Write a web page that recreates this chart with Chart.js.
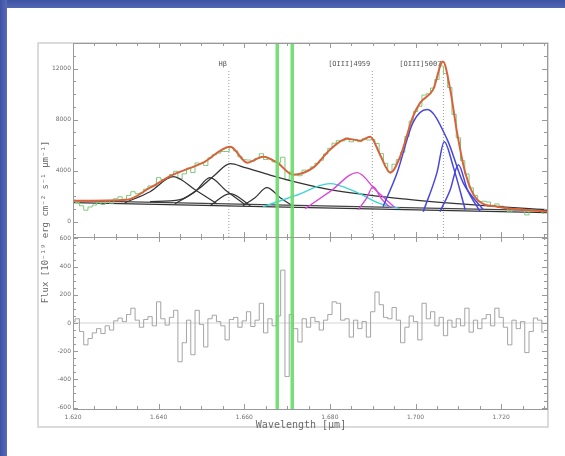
<!DOCTYPE html>
<html>
<head>
<meta charset="utf-8">
<script src="https://cdn.jsdelivr.net/npm/chart.js@4.4.1/dist/chart.umd.min.js"></script>
<style>
html, body { margin: 0; padding: 0; background: #fff; }
#wrap { position: relative; width: 565px; height: 456px; overflow: hidden; }
.bar-top { position: absolute; left: 0; top: 0; width: 565px; height: 8px; background: linear-gradient(#3d52a4, #5266b2); }
.bar-left { position: absolute; left: 0; top: 0; width: 7px; height: 456px; background: linear-gradient(90deg, #3d52a4, #586bb6); }
canvas { position: absolute; left: 0; top: 0; }
</style>
</head>
<body>
<div id="wrap">
  <div class="bar-top"></div>
  <div class="bar-left"></div>
  <canvas id="spec" width="565" height="456"></canvas>
</div>
<script>
// observed spectrum grid (micron)
const wave = [
  1.620, 1.621, 1.622, 1.623, 1.624, 1.625, 1.626, 1.627, 1.628, 1.629,
  1.630, 1.631, 1.632, 1.633, 1.634, 1.635, 1.636, 1.637, 1.638, 1.639,
  1.640, 1.641, 1.642, 1.643, 1.644, 1.645, 1.646, 1.647, 1.648, 1.649,
  1.650, 1.651, 1.652, 1.653, 1.654, 1.655, 1.656, 1.657, 1.658, 1.659,
  1.660, 1.661, 1.662, 1.663, 1.664, 1.665, 1.666, 1.667, 1.668, 1.669,
  1.670, 1.671, 1.672, 1.673, 1.674, 1.675, 1.676, 1.677, 1.678, 1.679,
  1.680, 1.681, 1.682, 1.683, 1.684, 1.685, 1.686, 1.687, 1.688, 1.689,
  1.690, 1.691, 1.692, 1.693, 1.694, 1.695, 1.696, 1.697, 1.698, 1.699,
  1.700, 1.701, 1.702, 1.703, 1.704, 1.705, 1.706, 1.707, 1.708, 1.709,
  1.710, 1.711, 1.712, 1.713, 1.714, 1.715, 1.716, 1.717, 1.718, 1.719,
  1.720, 1.721, 1.722, 1.723, 1.724, 1.725, 1.726, 1.727, 1.728, 1.729,
  1.730
];
const fluxObs = [
  1700, 1500, 1250, 900, 1150, 1300, 1500, 1350, 1650, 1450,
  1800, 1950, 1750, 2050, 2350, 2200, 2250, 2550, 2800, 2800,
  3450, 3300, 3400, 3700, 3950, 3350, 3750, 4200, 3850, 4600,
  4560, 4400, 5000, 5250, 5370, 5500, 5500, 5830, 5550, 5080,
  4860, 4830, 4750, 4950, 5330, 4870, 4920, 4680, 4650, 5050,
  3280, 3900, 3670, 3600, 4040, 4040, 4300, 4580, 4820, 5300,
  5750, 6150, 6350, 6330, 6560, 6260, 6440, 6270, 6500, 6400,
  6450, 6130, 5340, 4570, 3940, 4500, 4860, 5440, 6680, 7880,
  8630, 9040, 9920, 10030, 10470, 11140, 12200, 11610, 10510, 8410,
  6570, 4780, 3740, 2650, 2060, 1570, 1600, 1540, 1270, 1390,
  1220, 1050, 760, 1080, 930, 1000, 530, 790, 950, 890,
  670
];
const resid = [
  10, 30, -60, -155, -110, -70, -40, -75, -20, -50,
  15, 35, 10, 60, 105, 20, -30, 25, 45, -20,
  150, 30, -15, 40, 90, -275, -140, 20, -225, 90,
  -10, -170, 30, 55, 10, -20, -120, 25, 40, -30,
  15, 80, -25, 20, 140, -70, 30, -20, 50, 375,
  -380, 60, -40, -135, 30, -30, 40, 10, -50, 20,
  60, 150, 140, 20, 30, -100, 20, -40, 10, -100,
  80, 220, 130, 40, 30, 110, 20, -140, -30, 50,
  10, -120, 140, 30, 80, -20, 40, -90, 20, -30,
  30, -20, 105, -65, 20, -40, 30, 60, -20, 105,
  40, -30, -155, 20, -40, 10, -210, -60, 35, 20,
  -65
];

// total model
const modelWave = [1.6200, 1.6326, 1.6380, 1.6434, 1.6504, 1.6567, 1.6607, 1.6644, 1.6677, 1.6714,
  1.6761, 1.6800, 1.6840, 1.6871, 1.6894, 1.6917, 1.6941, 1.6964, 1.6994, 1.7011,
  1.7041, 1.7064, 1.7081, 1.7097, 1.7116, 1.7144, 1.7191, 1.7307];
const modelFlux = [1646, 1725, 2666, 3685, 4626, 5880, 4626, 5096, 4626, 3685,
  4234, 5645, 6507, 6350, 6664, 5253, 3842, 5096, 8232, 9330,
  10349, 12544, 10349, 6978, 3842, 1725, 1176, 784];

// continuum and line components
const contWave = [1.6200, 1.7307];
const contAFlux = [1490, 706];
const contBFlux = [1646, 862];
const hbBroadWave = [1.6380, 1.6450, 1.6497, 1.6532, 1.6567, 1.6602, 1.6649, 1.6707, 1.6800, 1.6964, 1.7128, 1.7307];
const hbBroadFlux = [1568, 1725, 2666, 3685, 4547, 4234, 3763, 3214, 2509, 1803, 1333, 941];
const g1Wave = [1.6321, 1.6380, 1.6434, 1.6485, 1.6536];
const g1Flux = [1490, 2352, 3528, 2509, 1411];
const g2Wave = [1.6438, 1.6485, 1.6520, 1.6555, 1.6602];
const g2Flux = [1411, 2352, 3450, 2509, 1333];
const g3Wave = [1.6520, 1.6567, 1.6614];
const g3Flux = [1254, 2195, 1254];
const g4Wave = [1.6597, 1.6625, 1.6653, 1.6684, 1.6712];
const g4Flux = [1254, 1882, 2666, 1882, 1254];
const cyanWave = [1.6644, 1.6719, 1.6800, 1.6859, 1.6917, 1.6964];
const cyanFlux = [1176, 2038, 2979, 2352, 1411, 1019];
const mag1Wave = [1.6742, 1.6800, 1.6864, 1.6906, 1.6952];
const mag1Flux = [1019, 2352, 3842, 2509, 1098];
const mag2Wave = [1.6866, 1.6885, 1.6901, 1.6920, 1.6941];
const mag2Flux = [941, 1803, 2744, 1803, 1098];
const blue1Wave = [1.6924, 1.6957, 1.6994, 1.7027, 1.7074, 1.7111, 1.7158];
const blue1Flux = [1176, 3842, 7762, 8781, 6429, 3058, 941];
const blue2Wave = [1.7018, 1.7050, 1.7067, 1.7088, 1.7116];
const blue2Flux = [784, 3842, 6272, 4312, 941];
const blue3Wave = [1.7057, 1.7081, 1.7100, 1.7121, 1.7151];
const blue3Flux = [784, 2509, 4469, 2509, 784];

// emission line markers and masked sky regions
const lineNames = ['H\u03b2', '[OIII]4959', '[OIII]5007'];
const lineWave = [1.6564, 1.6899, 1.7065];
const maskWave = [1.6677, 1.6712];

// tick positions
const waveTicks = [1.620, 1.625, 1.630, 1.635, 1.640, 1.645, 1.650, 1.655, 1.660, 1.665, 1.670, 1.675,
  1.680, 1.685, 1.690, 1.695, 1.700, 1.705, 1.710, 1.715, 1.720, 1.725, 1.730];
const waveLabels = [1.620, 1.640, 1.660, 1.680, 1.700, 1.720];
const fluxTicks = [-1000, 0, 1000, 2000, 3000, 4000, 5000, 6000, 7000, 8000, 9000, 10000, 11000, 12000, 13000, 14000];
const fluxLabels = [0, 4000, 8000, 12000];
const residTicks = [-600, -550, -500, -450, -400, -350, -300, -250, -200, -150, -100, -50, 0,
  50, 100, 150, 200, 250, 300, 350, 400, 450, 500, 550, 600];
const residLabels = [-600, -400, -200, 0, 200, 400, 600];

const X_MIN = 1.62, X_MAX = 1.7307;
const F_MIN = -1200, F_MAX = 14000;
const R_MIN = -610, R_MAX = 610;

function pts(w, f) { return w.map((x, i) => ({ x: x, y: f[i] })); }

function curve(label, w, f, color, width, axis) {
    return {
        label: label,
        data: pts(w, f),
        yAxisID: axis || 'y',
        borderColor: color,
        borderWidth: width,
        pointRadius: 0,
        fill: false,
        cubicInterpolationMode: 'monotone',
        tension: 0.4
    };
}

const datasets = [];
maskWave.forEach(m => {
    datasets.push({ data: [{ x: m, y: F_MIN }, { x: m, y: F_MAX }], yAxisID: 'y', borderColor: 'rgba(105,218,105,0.9)', borderWidth: 3.5, pointRadius: 0 });
    datasets.push({ data: [{ x: m, y: R_MIN }, { x: m, y: R_MAX }], yAxisID: 'y2', borderColor: 'rgba(105,218,105,0.9)', borderWidth: 3.5, pointRadius: 0 });
});
datasets.push(curve('model', modelWave, modelFlux, '#d8623a', 2));
datasets.push(curve('b1', blue1Wave, blue1Flux, '#4747dd', 1.5));
datasets.push(curve('b2', blue2Wave, blue2Flux, '#4747dd', 1.5));
datasets.push(curve('b3', blue3Wave, blue3Flux, '#4747dd', 1.5));
datasets.push(curve('m1', mag1Wave, mag1Flux, '#d848d8', 1.4));
datasets.push(curve('m2', mag2Wave, mag2Flux, '#d848d8', 1.4));
datasets.push(curve('cyan', cyanWave, cyanFlux, '#3cd4d4', 1.4));
datasets.push(curve('hb', hbBroadWave, hbBroadFlux, '#333', 1.3));
datasets.push(curve('g1', g1Wave, g1Flux, '#333', 1.2));
datasets.push(curve('g2', g2Wave, g2Flux, '#333', 1.2));
datasets.push(curve('g3', g3Wave, g3Flux, '#333', 1.2));
datasets.push(curve('g4', g4Wave, g4Flux, '#333', 1.2));
datasets.push({ data: pts(wave, fluxObs), yAxisID: 'y', borderColor: '#7cc97c', borderWidth: 1, pointRadius: 0, stepped: 'middle' });
datasets.push(curve('contA', contWave, contAFlux, '#333', 1.2));
datasets.push(curve('contB', contWave, contBFlux, '#444', 1.2));
lineWave.forEach(l => {
    datasets.push({ data: [{ x: l, y: F_MIN }, { x: l, y: 11900 }], yAxisID: 'y', borderColor: '#999', borderWidth: 1, borderDash: [1, 2], pointRadius: 0 });
});
datasets.push({ data: pts(wave, resid), yAxisID: 'y2', borderColor: '#9a9a9a', borderWidth: 0.9, pointRadius: 0, stepped: 'middle' });
datasets.push({ data: [{ x: X_MIN, y: 0 }, { x: X_MAX, y: 0 }], yAxisID: 'y2', borderColor: '#c8c8c8', borderWidth: 0.8, pointRadius: 0 });

const tickFont = { family: 'DejaVu Sans', size: 6 };

function setTicks(list) {
    return sc => { sc.ticks = list.map(v => ({ value: v })); };
}
function labelIn(list) {
    return v => list.some(l => Math.abs(l - v) < 1e-6) ? String(v) : '';
}

const decor = {
    id: 'decor',
    beforeDraw(chart) {
        const ctx = chart.ctx;
        ctx.save();
        ctx.strokeStyle = '#cfcfcf';
        ctx.lineWidth = 1.5;
        ctx.strokeRect(38, 43, 510, 384);
        ctx.restore();
    },
    afterDraw(chart) {
        const ctx = chart.ctx, a = chart.chartArea, s = chart.scales;
        const yDiv = s.y.bottom;
        ctx.save();
        ctx.strokeStyle = '#9a9a9a';
        ctx.lineWidth = 1;
        ctx.strokeRect(a.left + 0.5, a.top + 0.5, a.right - a.left, a.bottom - a.top);
        ctx.beginPath();
        ctx.moveTo(a.left, yDiv + 0.5);
        ctx.lineTo(a.right, yDiv + 0.5);
        ctx.stroke();
        ctx.beginPath();
        s.x.ticks.forEach(t => {
            const px = Math.round(s.x.getPixelForValue(t.value)) + 0.5;
            const len = t.label ? 5 : 3;
            ctx.moveTo(px, a.bottom); ctx.lineTo(px, a.bottom - len);
            ctx.moveTo(px, a.top); ctx.lineTo(px, a.top + len);
            ctx.moveTo(px, yDiv - len); ctx.lineTo(px, yDiv + len);
        });
        ['y', 'y2'].forEach(id => {
            const sc = s[id];
            sc.ticks.forEach(t => {
                const py = Math.round(sc.getPixelForValue(t.value)) + 0.5;
                const len = t.label ? 5 : 3;
                ctx.moveTo(a.left, py); ctx.lineTo(a.left + len, py);
                ctx.moveTo(a.right, py); ctx.lineTo(a.right - len, py);
            });
        });
        ctx.stroke();

        // line labels
        ctx.fillStyle = '#555';
        ctx.font = '7px "DejaVu Sans Mono"';
        ctx.textAlign = 'right';
        ctx.textBaseline = 'middle';
        lineWave.forEach((l, i) => {
            ctx.fillText(lineNames[i], s.x.getPixelForValue(l) - 2, 64);
        });

        // axis titles
        ctx.fillStyle = '#6a6a6a';
        ctx.font = '10px "DejaVu Sans Mono"';
        ctx.textAlign = 'center';
        ctx.fillText('Wavelength [\u00b5m]', 301, 425);
        ctx.translate(46, 222);
        ctx.rotate(-Math.PI / 2);
        ctx.font = '9px "DejaVu Sans Mono"';
        ctx.fillText('Flux [10\u207b\u00b9\u2079 erg cm\u207b\u00b2 s\u207b\u00b9 \u00b5m\u207b\u00b9]', 0, 0);
        ctx.restore();
    }
};

new Chart(document.getElementById('spec'), {
    type: 'line',
    data: { datasets: datasets },
    options: {
        responsive: false,
        animation: false,
        events: [],
        layout: { padding: { left: 0, top: 43, right: 18, bottom: 0 } },
        plugins: { legend: { display: false }, tooltip: { enabled: false } },
        scales: {
            x: {
                type: 'linear', min: X_MIN, max: X_MAX,
                grid: { display: false, drawTicks: false },
                border: { display: false },
                afterFit: sc => { sc.height = 47; },
                afterBuildTicks: setTicks(waveTicks),
                ticks: {
                    autoSkip: false, maxRotation: 0,
                    padding: 5, color: '#6f6f6f', font: tickFont,
                    callback: v => waveLabels.some(l => Math.abs(l - v) < 1e-6) ? v.toFixed(3) : ''
                }
            },
            y2: {
                type: 'linear', position: 'left', stack: 'panels', stackWeight: 172,
                min: R_MIN, max: R_MAX,
                grid: { display: false, drawTicks: false },
                border: { display: false },
                afterFit: sc => { sc.width = 73; },
                afterBuildTicks: setTicks(residTicks),
                ticks: {
                    autoSkip: false,
                    padding: 2, color: '#6f6f6f', font: tickFont,
                    callback: labelIn(residLabels)
                }
            },
            y: {
                type: 'linear', position: 'left', stack: 'panels', stackWeight: 194,
                min: F_MIN, max: F_MAX,
                grid: { display: false, drawTicks: false },
                border: { display: false },
                afterFit: sc => { sc.width = 73; },
                afterBuildTicks: setTicks(fluxTicks),
                ticks: {
                    autoSkip: false,
                    padding: 2, color: '#6f6f6f', font: tickFont,
                    callback: labelIn(fluxLabels)
                }
            }
        }
    },
    plugins: [decor]
});
</script>
</body>
</html>
